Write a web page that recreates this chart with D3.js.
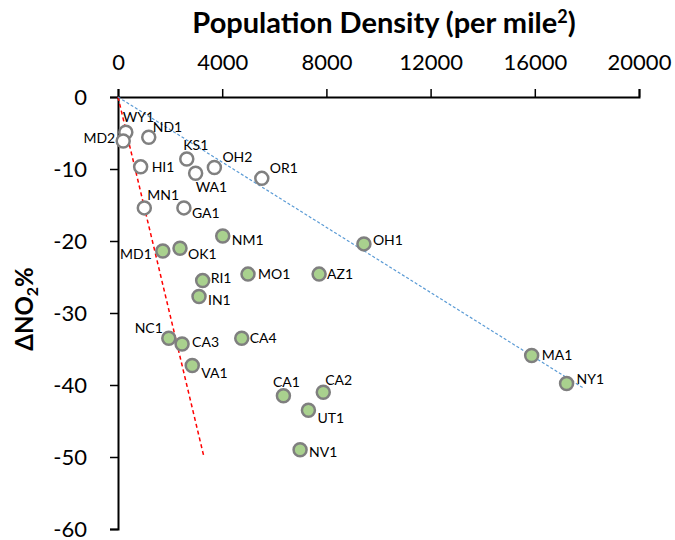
<!DOCTYPE html>
<html>
<head>
<meta charset="utf-8">
<script src="https://cdn.jsdelivr.net/npm/d3@7"></script>
<style>
  body { margin: 0; background: #fff; }
  svg { display: block; font-family: Lato, "Open Sans", sans-serif; }
</style>
</head>
<body>
<svg id="chart" width="675" height="540"></svg>
<script>
// hollow markers
var openSites = ["WY1", "MD2", "ND1", "HI1", "KS1", "OH2", "WA1", "OR1", "MN1", "GA1"];
var openDensity = [300, 200, 1180, 870, 2640, 3700, 2980, 5520, 1010, 2530];
var openChange = [-4.9, -6.1, -5.6, -9.7, -8.6, -9.8, -10.6, -11.3, -15.4, -15.4];

// green markers
var fillSites = ["NM1", "MD1", "OK1", "OH1", "RI1", "MO1", "AZ1", "IN1", "NC1", "CA3", "CA4", "VA1",
  "MA1", "NY1", "CA1", "CA2", "UT1", "NV1"];
var fillDensity = [4020, 1720, 2380, 9440, 3250, 4990, 7720, 3110, 1950, 2460, 4750, 2850,
  15880, 17220, 6350, 7880, 7310, 6990];
var fillChange = [-19.3, -21.4, -21.0, -20.4, -25.5, -24.6, -24.6, -27.7, -33.5, -34.3, -33.5, -37.3,
  -35.9, -39.8, -41.5, -41.0, -43.5, -49.0];

// trend lines (start, end)
var redTrendX = [0, 3300];
var redTrendY = [0, -50];
var blueTrendX = [0, 17900];
var blueTrendY = [0, -40.5];

var xTicks = [0, 4000, 8000, 12000, 16000, 20000];
var yTicks = [0, -10, -20, -30, -40, -50, -60];

// where each site label sits relative to its marker: [dx, dy, anchor]
var labelAt = {
  WY1: [-3, -10, "start"], MD2: [-8, 2, "end"], ND1: [4, -5, "start"], HI1: [11, 5, "start"],
  KS1: [9, -9, "middle"], OH2: [8, -6, "start"], WA1: [0, 19, "start"], OR1: [8, -5, "start"],
  MN1: [3, -8, "start"], GA1: [8, 10, "start"],
  NM1: [9, 9, "start"], MD1: [-11, 8, "end"], OK1: [8, 11, "start"], OH1: [9, 1, "start"],
  RI1: [8, 2, "start"], MO1: [10, 5, "start"], AZ1: [8, 5, "start"], IN1: [9, 9, "start"],
  NC1: [-6, -5, "end"], CA3: [10, 3, "start"], CA4: [8, 5, "start"], VA1: [9, 12, "start"],
  MA1: [10, 5, "start"], NY1: [10, 0, "start"], CA1: [3, -9, "middle"], CA2: [2, -7, "start"],
  UT1: [9, 13, "start"], NV1: [9, 7, "start"]
};

var margin = { top: 97, left: 118 };
var width = 521, height = 432;

var svg = d3.select("#chart");
svg.append("rect").attr("width", 675).attr("height", 540).attr("fill", "#fff");
var g = svg.append("g").attr("transform", `translate(${margin.left},${margin.top})`);

var x = d3.scaleLinear().domain([0, 20000]).range([0, width]);
var y = d3.scaleLinear().domain([-60, 0]).range([height, 0]);

// axes
var xAxis = g.append("g")
  .call(d3.axisTop(x).tickValues(xTicks).tickSize(8).tickPadding(19).tickFormat(d => String(d)));
var yAxis = g.append("g")
  .call(d3.axisLeft(y).tickValues(yTicks).tickSize(8).tickPadding(23).tickFormat(d => String(d)));

[xAxis, yAxis].forEach(function (a) {
  a.select(".domain").attr("stroke", "#000").attr("stroke-width", 2);
  a.selectAll(".tick line").attr("stroke", "#000").attr("stroke-width", 1.5);
  a.selectAll(".tick text").attr("fill", "#000").style("font-size", "22px").style("font-family", "Lato");
});

// titles
var xt = svg.append("text")
  .attr("x", 384).attr("y", 33)
  .attr("text-anchor", "middle")
  .style("font-size", "29px").style("font-weight", "bold");
xt.append("tspan").text("Population Density (per mile");
xt.append("tspan").text("2").attr("dy", -10).style("font-size", "18px");
xt.append("tspan").text(")").attr("dy", 10);

var yt = svg.append("text")
  .attr("transform", "translate(33,309) rotate(-90)")
  .attr("text-anchor", "middle")
  .style("font-size", "24px").style("font-weight", "bold");
yt.append("tspan").text("ΔNO");
yt.append("tspan").text("2").attr("dy", 5).style("font-size", "16px");
yt.append("tspan").text("%").attr("dy", -5);

// trend lines
g.append("line")
  .attr("x1", x(redTrendX[0])).attr("y1", y(redTrendY[0]))
  .attr("x2", x(redTrendX[1])).attr("y2", y(redTrendY[1]))
  .attr("stroke", "#ff0000").attr("stroke-width", 1.5).attr("stroke-dasharray", "4,3");
g.append("line")
  .attr("x1", x(blueTrendX[0])).attr("y1", y(blueTrendY[0]))
  .attr("x2", x(blueTrendX[1])).attr("y2", y(blueTrendY[1]))
  .attr("stroke", "#5b9bd5").attr("stroke-width", 1.2).attr("stroke-dasharray", "3,2");

// markers
var openData = openSites.map((s, i) => ({ site: s, d: openDensity[i], v: openChange[i] }));
var fillData = fillSites.map((s, i) => ({ site: s, d: fillDensity[i], v: fillChange[i] }));

g.selectAll(".open").data(openData).join("circle")
  .attr("class", "open")
  .attr("cx", d => x(d.d)).attr("cy", d => y(d.v)).attr("r", 6.5)
  .attr("fill", "#fff").attr("stroke", "#808080").attr("stroke-width", 2.5);

g.selectAll(".fill").data(fillData).join("circle")
  .attr("class", "fill")
  .attr("cx", d => x(d.d)).attr("cy", d => y(d.v)).attr("r", 6.5)
  .attr("fill", "#a9d18e").attr("stroke", "#7f7f7f").attr("stroke-width", 2.5);

// labels
g.selectAll(".lbl").data(openData.concat(fillData)).join("text")
  .attr("class", "lbl")
  .attr("x", d => x(d.d) + labelAt[d.site][0])
  .attr("y", d => y(d.v) + labelAt[d.site][1])
  .attr("text-anchor", d => labelAt[d.site][2])
  .style("font-size", "14px")
  .attr("fill", "#000")
  .text(d => d.site);
</script>
</body>
</html>
